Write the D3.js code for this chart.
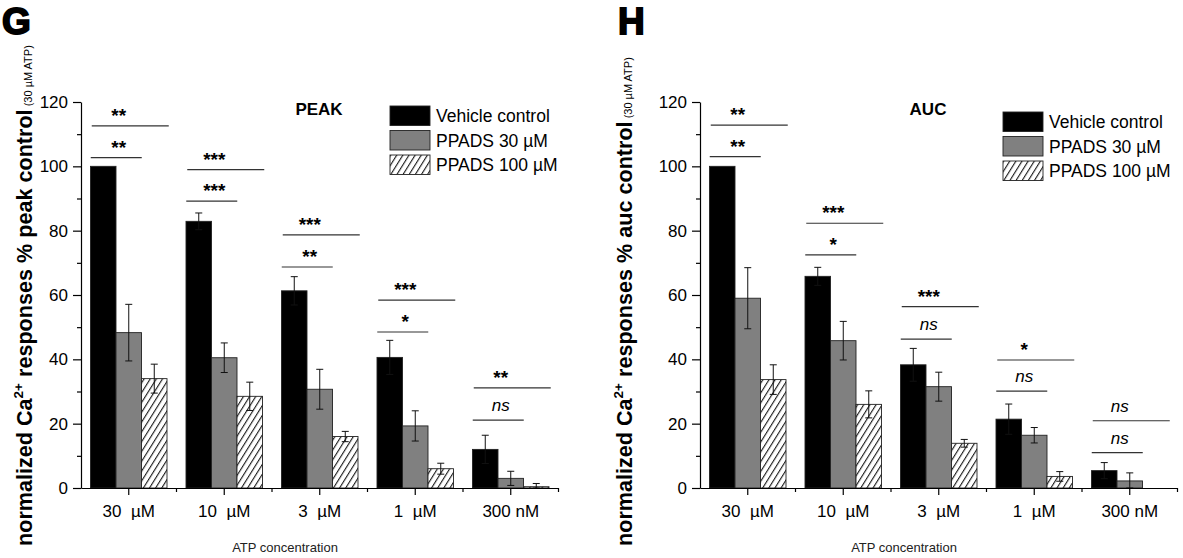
<!DOCTYPE html>
<html>
<head>
<meta charset="utf-8">
<script src="https://cdn.jsdelivr.net/npm/d3@7"></script>
<style>
  html, body { margin: 0; padding: 0; background: #fff; }
  svg { display: block; font-family: Arial, "Liberation Sans", sans-serif; }
</style>
</head>
<body>
<svg id="chart" width="1183" height="558"></svg>
<script>
// ATP concentrations on the x axis
const categories = ["30  µM", "10  µM", "3  µM", "1  µM", "300 nM"];
const seriesNames = ["Vehicle control", "PPADS 30 µM", "PPADS 100 µM"];
const yTicks = [0, 20, 40, 60, 80, 100, 120];

// PEAK responses (% of 30 µM ATP control), mean and SEM
const peakVehicle    = [100, 82.9, 61.3, 40.6, 12.0];
const peakVehicleErr = [0, 2.6, 4.4, 5.3, 4.4];
const peakP30        = [48.3, 40.5, 30.7, 19.3, 3.0];
const peakP30Err     = [8.8, 4.6, 6.2, 4.7, 2.2];
const peakP100       = [34.0, 28.5, 16.0, 6.0, 0.4];
const peakP100Err    = [4.5, 4.4, 1.6, 1.7, 1.0];
// significance brackets: [vehicle vs 30 µM, vehicle vs 100 µM]
const peakBracketLevels = [[102.7, 112.6], [89.2, 99.0], [68.7, 78.7], [48.5, 58.4], [21.1, 31.1]];
const peakBracketMarks  = [["**", "**"], ["***", "***"], ["**", "***"], ["*", "***"], ["ns", "**"]];

// AUC responses (% of 30 µM ATP control), mean and SEM
const aucVehicle    = [100, 65.8, 38.3, 21.4, 5.4];
const aucVehicleErr = [0, 2.8, 5.1, 4.7, 2.5];
const aucP30        = [59.0, 45.8, 31.5, 16.4, 2.2];
const aucP30Err     = [9.5, 6.0, 4.5, 2.4, 2.5];
const aucP100       = [33.7, 26.0, 13.9, 3.6, 0];
const aucP100Err    = [4.6, 4.2, 1.2, 1.5, 0];
const aucBracketLevels = [[103.0, 112.8], [72.5, 82.3], [46.3, 56.4], [30.1, 39.8], [11.0, 20.9]];
const aucBracketMarks  = [["**", "**"], ["*", "***"], ["ns", "***"], ["ns", "*"], ["ns", "ns"]];

const svg = d3.select("#chart");
const defs = svg.append("defs");

// diagonal hatch for the 100 µM series
const hatch = defs.append("pattern")
  .attr("id", "hatch")
  .attr("patternUnits", "userSpaceOnUse")
  .attr("width", 5.2).attr("height", 5.2)
  .attr("patternTransform", "rotate(32)");
hatch.append("rect").attr("width", 5.2).attr("height", 5.2).attr("fill", "#fff");
hatch.append("line").attr("x1", 0.6).attr("y1", 0).attr("x2", 0.6).attr("y2", 5.2)
  .attr("stroke", "#000").attr("stroke-width", 1);

const fills = ["#000", "#808080", "url(#hatch)"];

function drawPanel(cfg) {
  const g = svg.append("g");
  const y = d3.scaleLinear().domain([0, 120]).range([488, 102]);
  const x = d3.scaleBand().domain(categories).range([cfg.x0, cfg.x0 + 477.5]).padding(0);
  const inner = d3.scaleBand().domain([0, 1, 2]).range([0, 76.5]).padding(0);
  const groupOffset = (x.bandwidth() - 76.5) / 2;

  const series = [
    { vals: cfg.vehicle, errs: cfg.vehicleErr },
    { vals: cfg.p30, errs: cfg.p30Err },
    { vals: cfg.p100, errs: cfg.p100Err }
  ];

  // bars
  series.forEach((s, si) => {
    g.append("g").selectAll("rect")
      .data(categories.map((c, i) => ({ c, v: s.vals[i] })))
      .join("rect")
      .attr("x", d => x(d.c) + groupOffset + inner(si))
      .attr("y", d => y(d.v))
      .attr("width", inner.bandwidth())
      .attr("height", d => y(0) - y(d.v))
      .attr("fill", fills[si])
      .attr("stroke", d => d.v > 0 ? "#222" : "none")
      .attr("stroke-width", 0.9);
  });

  // error bars
  series.forEach((s, si) => {
    const eg = g.append("g").attr("stroke", "#111").attr("stroke-width", 1);
    categories.forEach((c, i) => {
      const e = s.errs[i];
      if (!e) return;
      const cx = x(c) + groupOffset + inner(si) + inner.bandwidth() / 2;
      const top = y(s.vals[i] + e), bot = y(Math.max(0, s.vals[i] - e));
      eg.append("line").attr("x1", cx).attr("x2", cx).attr("y1", top).attr("y2", bot);
      eg.append("line").attr("x1", cx - 3.5).attr("x2", cx + 3.5).attr("y1", top).attr("y2", top);
      eg.append("line").attr("x1", cx - 3.5).attr("x2", cx + 3.5).attr("y1", bot).attr("y2", bot);
    });
  });

  // significance brackets
  categories.forEach((c, i) => {
    const cx = x(c) + x.bandwidth() / 2;
    const [lo, hi] = cfg.levels[i];
    const [mLo, mHi] = cfg.marks[i];
    const rows = [
      { lvl: lo, x1: cx - 38, x2: cx + 13, m: mLo },
      { lvl: hi, x1: cx - 37, x2: cx + 40, m: mHi }
    ];
    rows.forEach(r => {
      g.append("line")
        .attr("x1", r.x1).attr("x2", r.x2)
        .attr("y1", y(r.lvl)).attr("y2", y(r.lvl))
        .attr("stroke", "#333").attr("stroke-width", 1.2);
      const isNs = r.m === "ns";
      g.append("text")
        .attr("x", cx - 10)
        .attr("y", isNs ? y(r.lvl) - 9 : y(r.lvl) - 4)
        .attr("text-anchor", "middle")
        .attr("font-size", isNs ? 17 : 19)
        .attr("font-weight", isNs ? "normal" : "bold")
        .attr("font-style", isNs ? "italic" : "normal")
        .text(r.m);
    });
  });

  // y axis: major ticks with labels, minor ticks every 10
  const yAxis = g.append("g").attr("transform", `translate(${cfg.x0},0)`)
    .call(d3.axisLeft(y).tickValues(yTicks).tickSize(8).tickSizeOuter(0).tickPadding(5));
  yAxis.selectAll("text").attr("font-size", 17).attr("font-family", "Arial, 'Liberation Sans', sans-serif").attr("fill", "#000");
  yAxis.selectAll("line, path").attr("stroke", "#000").attr("stroke-width", 1.2);
  g.append("g").attr("transform", `translate(${cfg.x0},0)`)
    .call(d3.axisLeft(y).tickValues(d3.range(10, 120, 20)).tickSize(4).tickFormat(""))
    .call(a => a.select(".domain").remove())
    .selectAll("line").attr("stroke", "#000").attr("stroke-width", 1.2);

  // x axis: ticks at group centres, minor ticks at group boundaries
  const xAxis = g.append("g").attr("transform", "translate(0,488)")
    .call(d3.axisBottom(x).tickSize(7).tickSizeOuter(0).tickPadding(10));
  xAxis.selectAll("text").attr("font-size", 17).attr("font-family", "Arial, 'Liberation Sans', sans-serif")
    .attr("fill", "#000").style("white-space", "pre");
  xAxis.selectAll("line, path").attr("stroke", "#000").attr("stroke-width", 1.2);
  const bounds = categories.slice(1).map(c => x(c)).concat([x.range()[1]]);
  g.append("g").selectAll("line").data(bounds).join("line")
    .attr("x1", d => d).attr("x2", d => d).attr("y1", 488).attr("y2", 492)
    .attr("stroke", "#000").attr("stroke-width", 1.2);

  // axis titles
  g.append("text")
    .attr("x", cfg.x0 + 204).attr("y", 552)
    .attr("text-anchor", "middle").attr("font-size", 13).attr("fill", "#222")
    .text("ATP concentration");

  const yl = g.append("text")
    .attr("transform", `translate(${cfg.labelX},546) rotate(-90)`)
    .attr("font-size", 21.6).attr("font-weight", "bold");
  yl.append("tspan").text("normalized Ca");
  yl.append("tspan").attr("font-size", 13.5).attr("dy", -9).text("2+");
  yl.append("tspan").attr("dy", 9).text(` responses % ${cfg.metric} control`);
  yl.append("tspan").attr("font-size", 11).attr("font-weight", "normal").text(" (30 µM ATP)");

  // panel title
  g.append("text")
    .attr("x", cfg.titleX).attr("y", 115)
    .attr("text-anchor", "middle").attr("font-size", 17).attr("font-weight", "bold")
    .text(cfg.title);

  // panel letter
  g.append("text")
    .attr("x", cfg.letterX).attr("y", 34)
    .attr("font-size", 37).attr("font-weight", "bold")
    .attr("stroke", "#000").attr("stroke-width", 1.8)
    .text(cfg.letter);

  // legend
  const lg = g.append("g").attr("transform", `translate(${cfg.legendX},${cfg.legendY})`);
  seriesNames.forEach((name, i) => {
    const row = lg.append("g").attr("transform", `translate(0,${i * 24.5})`);
    row.append("rect").attr("width", 40).attr("height", 19.5)
      .attr("fill", fills[i]).attr("stroke", "#222").attr("stroke-width", 0.9);
    row.append("text").attr("x", 46).attr("y", 16).attr("font-size", 17.5).text(name);
  });
}

drawPanel({
  x0: 81, labelX: 32, metric: "peak", title: "PEAK", titleX: 319, letter: "G", letterX: 2,
  legendX: 390, legendY: 106,
  vehicle: peakVehicle, vehicleErr: peakVehicleErr,
  p30: peakP30, p30Err: peakP30Err, p100: peakP100, p100Err: peakP100Err,
  levels: peakBracketLevels, marks: peakBracketMarks
});

drawPanel({
  x0: 700, labelX: 632, metric: "auc", title: "AUC", titleX: 928, letter: "H", letterX: 618,
  legendX: 1003, legendY: 112,
  vehicle: aucVehicle, vehicleErr: aucVehicleErr,
  p30: aucP30, p30Err: aucP30Err, p100: aucP100, p100Err: aucP100Err,
  levels: aucBracketLevels, marks: aucBracketMarks
});
</script>
</body>
</html>
